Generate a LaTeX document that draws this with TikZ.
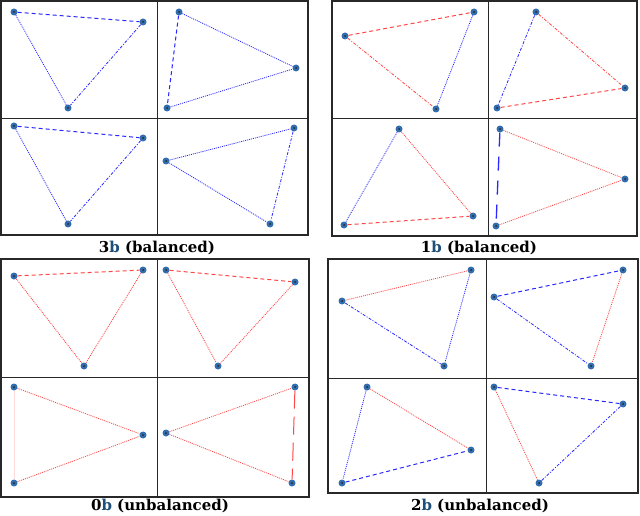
\documentclass[tikz,border=0pt]{standalone}
\usepackage{fontspec}
\newfontfamily\labfont{DejaVu Serif}
\definecolor{eblue}{RGB}{40,40,255}
\definecolor{ered}{RGB}{255,70,70}
\definecolor{vblue}{RGB}{50,110,175}
\definecolor{bdark}{RGB}{31,78,121}
\definecolor{frame}{RGB}{40,40,40}
\tikzset{
  vtx/.style={circle,fill=vblue,inner sep=0pt,minimum size=7pt,
    path picture={\fill[black!85] (path picture bounding box.center) circle (1pt);}},
  dsh/.style={line width=1pt,dash pattern=on 4pt off 3pt},
  dtt/.style={line width=0.8pt,dash pattern=on 1pt off 1pt},
  dshdot/.style={line width=0.8pt,dash pattern=on 3pt off 1.5pt on 1pt off 1.5pt},
  fr/.style={draw=frame,line width=1.2pt},
  dv/.style={draw=frame,line width=1pt},
  lab/.style={font=\labfont\bfseries\fontsize{15}{17}\selectfont,inner sep=0pt}
}
\newcommand{\bb}{\textcolor{bdark}{b}}
\begin{document}
\begin{tikzpicture}[x=1pt,y=-1pt]
\useasboundingbox (0,0) rectangle (640,516);
% frames
\draw[fr] (1,1) rectangle (308,235);
\draw[dv] (157,1) -- (157,235); \draw[dv] (1,119) -- (308,119);
\draw[fr] (332,1) rectangle (637,236);
\draw[dv] (488,1) -- (488,236); \draw[dv] (332,119) -- (637,119);
\draw[fr] (1,259) rectangle (309,497);
\draw[dv] (157,259) -- (157,497); \draw[dv] (1,377) -- (309,377);
\draw[fr] (328,259) rectangle (638,493);
\draw[dv] (486,259) -- (486,493); \draw[dv] (328,378) -- (638,378);
% labels
\node[lab] (l1) at (157,248) {3\bb{} (balanced)};
\node[lab] (l2) at (479,248) {1\bb{} (balanced)};
\node[lab] (l3) at (160,506) {0\bb{} (unbalanced)};
\node[lab] (l4) at (480,506) {2\bb{} (unbalanced)};
% ===== group 3b =====
\node[vtx] (a1) at (14,12) {}; \node[vtx] (a2) at (143,22) {}; \node[vtx] (a3) at (68,108) {};
\draw[eblue,dsh] (a1) -- (a2); \draw[eblue,dtt] (a1) -- (a3); \draw[eblue,dshdot] (a2) -- (a3);
\node[vtx] (b1) at (179,12) {}; \node[vtx] (b2) at (296,68) {}; \node[vtx] (b3) at (167,108) {};
\draw[eblue,dsh] (b1) -- (b3); \draw[eblue,dtt] (b1) -- (b2); \draw[eblue,dtt] (b3) -- (b2);
\node[vtx] (c1) at (14,126) {}; \node[vtx] (c2) at (143,138) {}; \node[vtx] (c3) at (68,224) {};
\draw[eblue,dsh] (c1) -- (c2); \draw[eblue,dtt] (c1) -- (c3); \draw[eblue,dshdot] (c2) -- (c3);
\node[vtx] (d1) at (294,128) {}; \node[vtx] (d2) at (166,161) {}; \node[vtx] (d3) at (270,224) {};
\draw[eblue,dtt] (d2) -- (d1); \draw[eblue,dtt] (d2) -- (d3); \draw[eblue,dshdot] (d1) -- (d3);
% ===== group 1b =====
\node[vtx] (e1) at (345,36) {}; \node[vtx] (e2) at (474,12) {}; \node[vtx] (e3) at (436,109) {};
\draw[ered,dsh] (e1) -- (e2); \draw[ered,dshdot] (e1) -- (e3); \draw[eblue,dtt] (e2) -- (e3);
\node[vtx] (f1) at (536,12) {}; \node[vtx] (f2) at (625,88) {}; \node[vtx] (f3) at (497,108) {};
\draw[eblue,dshdot] (f1) -- (f3); \draw[ered,dshdot] (f1) -- (f2); \draw[ered,dsh] (f3) -- (f2);
\node[vtx] (g1) at (399,129) {}; \node[vtx] (g2) at (473,216) {}; \node[vtx] (g3) at (344,225) {};
\draw[eblue,dtt] (g1) -- (g3); \draw[ered,dtt] (g1) -- (g2); \draw[ered,dsh] (g3) -- (g2);
\node[vtx] (h1) at (500,129) {}; \node[vtx] (h2) at (625,179) {}; \node[vtx] (h3) at (496,226) {};
\draw[eblue,line width=1.3pt,dash pattern=on 14pt off 10pt] (h1) -- (h3); \draw[ered,dtt] (h1) -- (h2); \draw[ered,dtt] (h3) -- (h2);
% ===== group 0b =====
\node[vtx] (i1) at (14,276) {}; \node[vtx] (i2) at (143,270) {}; \node[vtx] (i3) at (84,366) {};
\draw[ered,dsh] (i1) -- (i2); \draw[ered,dtt] (i1) -- (i3); \draw[ered,dtt] (i2) -- (i3);
\node[vtx] (j1) at (166,270) {}; \node[vtx] (j2) at (295,282) {}; \node[vtx] (j3) at (218,366) {};
\draw[ered,dsh] (j1) -- (j2); \draw[ered,dtt] (j1) -- (j3); \draw[ered,dtt] (j2) -- (j3);
\node[vtx] (k1) at (14,387) {}; \node[vtx] (k2) at (143,435) {}; \node[vtx] (k3) at (14,483) {};
\draw[ered!20,line width=1pt] (k1) -- (k3); \draw[ered,dtt] (k1) -- (k2); \draw[ered,dtt] (k3) -- (k2);
\node[vtx] (m1) at (295,387) {}; \node[vtx] (m2) at (166,433) {}; \node[vtx] (m3) at (292,483) {};
\draw[ered,line width=1pt,dash pattern=on 18pt off 8pt] (m1) -- (m3); \draw[ered,dtt] (m2) -- (m1); \draw[ered,dtt] (m2) -- (m3);
% ===== group 2b =====
\node[vtx] (n1) at (342,301) {}; \node[vtx] (n2) at (471,270) {}; \node[vtx] (n3) at (444,366) {};
\draw[ered,dtt] (n1) -- (n2); \draw[eblue,dshdot] (n1) -- (n3); \draw[eblue,dtt] (n2) -- (n3);
\node[vtx] (o1) at (494,297) {}; \node[vtx] (o2) at (623,270) {}; \node[vtx] (o3) at (591,366) {};
\draw[eblue,dsh] (o1) -- (o2); \draw[eblue,dshdot] (o1) -- (o3); \draw[ered,dtt] (o2) -- (o3);
\node[vtx] (p1) at (367,387) {}; \node[vtx] (p2) at (471,450) {}; \node[vtx] (p3) at (342,483) {};
\draw[eblue,dtt] (p1) -- (p3); \draw[ered,dtt] (p1) -- (p2); \draw[eblue,dsh] (p3) -- (p2);
\node[vtx] (q1) at (494,387) {}; \node[vtx] (q2) at (623,404) {}; \node[vtx] (q3) at (539,483) {};
\draw[eblue,dsh] (q1) -- (q2); \draw[ered,dtt] (q1) -- (q3); \draw[eblue,dshdot] (q2) -- (q3);
\end{tikzpicture}
\end{document}
